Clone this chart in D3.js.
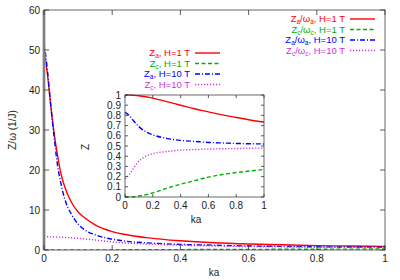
<!DOCTYPE html>
<html>
<head>
<meta charset="utf-8">
<script src="https://cdn.jsdelivr.net/npm/d3@7"></script>
<style>
  body { margin: 0; background: #fff; }
  text { font-family: "Liberation Sans", Arial, sans-serif; }
</style>
</head>
<body>
<svg id="chart" width="400" height="280"></svg>
<script>
// main plot: Z/omega (1/J) vs ka
const kaMain = [0, 0.01, 0.02, 0.03, 0.04, 0.05, 0.06, 0.08, 0.1, 0.12, 0.15, 0.2, 0.25, 0.3, 0.4, 0.5, 0.6, 0.7, 0.8, 0.9, 1.0];
const zaH1 = [50, 44, 36, 29, 23.5, 19, 16, 12, 9.5, 8, 6.3, 4.6, 3.7, 3.1, 2.3, 1.8, 1.5, 1.3, 1.1, 1.0, 0.9];
const zcH1 = [0, 0, 0, 0, 0, 0, 0.01, 0.01, 0.02, 0.02, 0.03, 0.04, 0.05, 0.07, 0.1, 0.13, 0.15, 0.18, 0.2, 0.22, 0.25];
const zaH10 = [52, 45, 36, 28, 21, 16.5, 13, 9, 6.5, 5, 3.8, 2.7, 2.1, 1.8, 1.4, 1.2, 1.0, 0.9, 0.8, 0.75, 0.7];
const zcH10 = [3.3, 3.3, 3.28, 3.25, 3.22, 3.2, 3.15, 3.05, 2.9, 2.75, 2.5, 2.0, 1.7, 1.5, 1.2, 1.0, 0.85, 0.78, 0.7, 0.65, 0.6];

// inset: Z vs ka
const kaInset = [0, 0.03, 0.06, 0.1, 0.15, 0.2, 0.3, 0.4, 0.5, 0.6, 0.7, 0.8, 0.9, 1.0];
const insZaH1 = [1.0, 0.999, 0.997, 0.993, 0.983, 0.97, 0.935, 0.9, 0.865, 0.835, 0.805, 0.78, 0.755, 0.735];
const insZcH1 = [0, 0, 0.003, 0.01, 0.022, 0.04, 0.085, 0.125, 0.16, 0.195, 0.22, 0.24, 0.255, 0.27];
const insZaH10 = [0.83, 0.8, 0.75, 0.69, 0.64, 0.61, 0.575, 0.555, 0.545, 0.535, 0.53, 0.525, 0.522, 0.52];
const insZcH10 = [0.18, 0.22, 0.28, 0.35, 0.4, 0.425, 0.445, 0.46, 0.465, 0.47, 0.473, 0.475, 0.478, 0.48];

const mainXTicks = [0, 0.2, 0.4, 0.6, 0.8, 1];
const mainYTicks = [0, 10, 20, 30, 40, 50, 60];
const insetXTicks = [0, 0.2, 0.4, 0.6, 0.8, 1];
const insetYTicks = [0, 0.1, 0.2, 0.3, 0.4, 0.5, 0.6, 0.7, 0.8, 0.9, 1];

const mainLegend = [
  { sub: "a", label: "/ω", sub2: "a", rest: ", H=1 T" },
  { sub: "c", label: "/ω", sub2: "c", rest: ", H=1 T" },
  { sub: "a", label: "/ω", sub2: "a", rest: ", H=10 T" },
  { sub: "c", label: "/ω", sub2: "c", rest: ", H=10 T" }
];
const insetLegend = [
  { sub: "a", rest: ", H=1 T" },
  { sub: "c", rest: ", H=1 T" },
  { sub: "a", rest: ", H=10 T" },
  { sub: "c", rest: ", H=10 T" }
];

const styles = [
  { color: "#ff0000", dash: null },
  { color: "#00b000", dash: "4,2.5" },
  { color: "#0000ff", dash: "5,2,1,2" },
  { color: "#d030e0", dash: "1.2,1.8" }
];

const svg = d3.select("#chart");

function panel(g, x, y, xTicks, yTicks, yFmt, tickLen) {
  const [x0, x1] = x.range();
  const [y0, y1] = y.range();
  // ticks (inward, mirrored)
  xTicks.forEach(t => {
    g.append("line").attr("x1", x(t)).attr("x2", x(t)).attr("y1", y0).attr("y2", y0 - tickLen)
      .attr("stroke", "#333").attr("stroke-width", 0.8);
    g.append("line").attr("x1", x(t)).attr("x2", x(t)).attr("y1", y1).attr("y2", y1 + tickLen)
      .attr("stroke", "#333").attr("stroke-width", 0.8);
  });
  yTicks.forEach(t => {
    g.append("line").attr("x1", x0).attr("x2", x0 + tickLen).attr("y1", y(t)).attr("y2", y(t))
      .attr("stroke", "#333").attr("stroke-width", 0.8);
    g.append("line").attr("x1", x1).attr("x2", x1 - tickLen).attr("y1", y(t)).attr("y2", y(t))
      .attr("stroke", "#333").attr("stroke-width", 0.8);
  });
  g.selectAll(null).data(xTicks).enter().append("text")
    .attr("x", d => x(d)).attr("y", y0 + 12).attr("text-anchor", "middle")
    .attr("font-size", 10).attr("fill", "#222").text(d => d);
  g.selectAll(null).data(yTicks).enter().append("text")
    .attr("x", x0 - 4).attr("y", d => y(d) + 3.5).attr("text-anchor", "end")
    .attr("font-size", 10).attr("fill", "#222").text(yFmt);
}

function curves(g, x, y, kas, series) {
  const line = d3.line().x((d, i) => x(kas[i])).y(d => y(d)).curve(d3.curveMonotoneX);
  series.forEach((s, i) => {
    g.append("path").attr("d", line(s)).attr("fill", "none")
      .attr("stroke", styles[i].color).attr("stroke-width", 1.4)
      .attr("stroke-dasharray", styles[i].dash);
  });
}

function legendText(g, x, y, color, parts) {
  const t = g.append("text").attr("x", x).attr("y", y).attr("text-anchor", "end")
    .attr("font-size", 9.5).attr("fill", color);
  parts.forEach(p => {
    const s = t.append("tspan").text(p.text);
    if (p.sub) s.attr("font-size", 6.5).attr("dy", 2);
    if (p.up) s.attr("dy", -2);
  });
}

// main panel
const xM = d3.scaleLinear().domain([0, 1]).range([44, 385]);
const yM = d3.scaleLinear().domain([0, 60]).range([250, 10]);
const gM = svg.append("g");
const clipM = svg.append("clipPath").attr("id", "clipM");
clipM.append("rect").attr("x", 44).attr("y", 10).attr("width", 341).attr("height", 240);
const gMC = gM.append("g").attr("clip-path", "url(#clipM)");
curves(gMC, xM, yM, kaMain, [zaH1, zcH1, zaH10, zcH10]);
// grey vertical line along ka = 0
gM.append("line").attr("x1", xM(0)).attr("x2", xM(0)).attr("y1", yM(0)).attr("y2", yM(60))
  .attr("stroke", "#a8a8a8").attr("stroke-width", 3);
gM.append("rect").attr("x", 44).attr("y", 10).attr("width", 341).attr("height", 240)
  .attr("fill", "none").attr("stroke", "#444").attr("stroke-width", 0.8);
panel(gM, xM, yM, mainXTicks, mainYTicks, d => d, 5);
gM.append("text").attr("x", 214).attr("y", 276).attr("text-anchor", "middle")
  .attr("font-size", 10).attr("fill", "#222").text("ka");
gM.append("text").attr("transform", "translate(16,130) rotate(-90)").attr("text-anchor", "middle")
  .attr("font-size", 10).attr("fill", "#222").text("Z/ω (1/J)");

// main legend (top right)
const legRowsM = [19, 29.5, 40, 50.5];
mainLegend.forEach((d, i) => {
  legendText(gM, 345, legRowsM[i] + 3, styles[i].color, [
    { text: "Z" }, { text: d.sub, sub: true }, { text: d.label, up: true },
    { text: d.sub2, sub: true }, { text: d.rest, up: true }
  ]);
  gM.append("line").attr("x1", 350).attr("x2", 375).attr("y1", legRowsM[i]).attr("y2", legRowsM[i])
    .attr("stroke", styles[i].color).attr("stroke-width", 1.4).attr("stroke-dasharray", styles[i].dash);
});

// inset legend
const legRowsI = [53, 63.5, 74, 84.5];
insetLegend.forEach((d, i) => {
  legendText(gM, 190, legRowsI[i] + 3, styles[i].color, [
    { text: "Z" }, { text: d.sub, sub: true }, { text: d.rest, up: true }
  ]);
  gM.append("line").attr("x1", 195).attr("x2", 220).attr("y1", legRowsI[i]).attr("y2", legRowsI[i])
    .attr("stroke", styles[i].color).attr("stroke-width", 1.4).attr("stroke-dasharray", styles[i].dash);
});

// inset panel
const xI = d3.scaleLinear().domain([0, 1]).range([125, 264]);
const yI = d3.scaleLinear().domain([0, 1]).range([197, 95]);
const gI = svg.append("g");
gI.append("rect").attr("x", 125).attr("y", 95).attr("width", 139).attr("height", 102).attr("fill", "#fff");
curves(gI, xI, yI, kaInset, [insZaH1, insZcH1, insZaH10, insZcH10]);
gI.append("rect").attr("x", 125).attr("y", 95).attr("width", 139).attr("height", 102)
  .attr("fill", "none").attr("stroke", "#444").attr("stroke-width", 0.8);
panel(gI, xI, yI, insetXTicks, insetYTicks, d => d, 3);
gI.append("text").attr("x", 196).attr("y", 223).attr("text-anchor", "middle")
  .attr("font-size", 10).attr("fill", "#222").text("ka");
gI.append("text").attr("transform", "translate(89,147) rotate(-90)").attr("text-anchor", "middle")
  .attr("font-size", 10).attr("fill", "#222").text("Z");
</script>
</body>
</html>
